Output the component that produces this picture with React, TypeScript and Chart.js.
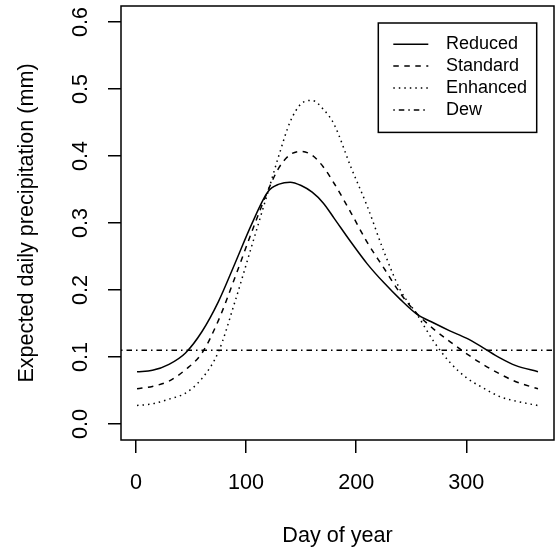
import React, { useEffect, useRef } from "react";
import { Chart, registerables } from "chart.js";

Chart.register(...registerables);

// ---- data ----
const DAYS = [1, 15, 30, 45, 60, 75, 90, 105, 120, 130, 140, 150, 160, 170, 180, 195, 210, 225, 240, 255, 270, 285, 300, 315, 330, 345, 365];
const REDUCED = [0.078, 0.08, 0.089, 0.106, 0.138, 0.183, 0.24, 0.298, 0.347, 0.358, 0.361, 0.356, 0.346, 0.33, 0.307, 0.272, 0.239, 0.211, 0.186, 0.164, 0.151, 0.139, 0.128, 0.114, 0.099, 0.087, 0.078];
const STANDARD = [0.0525, 0.056, 0.064, 0.081, 0.106, 0.155, 0.219, 0.286, 0.349, 0.383, 0.402, 0.407, 0.401, 0.384, 0.359, 0.316, 0.271, 0.233, 0.195, 0.165, 0.142, 0.123, 0.105, 0.089, 0.075, 0.063, 0.0525];
const ENHANCED = [0.0275, 0.03, 0.037, 0.046, 0.068, 0.108, 0.183, 0.265, 0.347, 0.402, 0.451, 0.478, 0.483, 0.47, 0.447, 0.384, 0.325, 0.258, 0.2, 0.164, 0.124, 0.092, 0.069, 0.054, 0.041, 0.034, 0.0275];
const DEW = 0.11;
const SERIES_LABELS = ["Reduced", "Standard", "Enhanced", "Dew"];

const X_TICKS = [0, 100, 200, 300];
const Y_TICKS = [0, 0.1, 0.2, 0.3, 0.4, 0.5, 0.6];
const X_MIN = -13.56;
const X_MAX = 379.56;
const Y_MIN = -0.024;
const Y_MAX = 0.624;

const FAMILY = "'Liberation Sans', Arial, Helvetica, sans-serif";
const AXIS_FONT = { family: FAMILY, size: 21.6 };

const toPoints = (vals: number[]) => DAYS.map((d, i) => ({ x: d, y: vals[i] }));

const frameAndLegend = {
  id: "frameAndLegend",
  afterDatasetsDraw(chart: any) {
    const { ctx, chartArea } = chart;
    ctx.save();
    // plot box
    ctx.strokeStyle = "#000";
    ctx.lineWidth = 1.5;
    ctx.setLineDash([]);
    ctx.strokeRect(chartArea.left, chartArea.top, chartArea.right - chartArea.left, chartArea.bottom - chartArea.top);

    // legend
    const w = 158.4;
    const h = 109.4;
    const x0 = chartArea.right - 17.3 - w;
    const y0 = chartArea.top + 17;
    ctx.fillStyle = "#fff";
    ctx.fillRect(x0, y0, w, h);
    ctx.strokeRect(x0, y0, w, h);
    ctx.font = `18px ${FAMILY}`;
    ctx.textBaseline = "middle";
    ctx.textAlign = "left";
    chart.data.datasets.forEach((ds: any, i: number) => {
      const y = y0 + 21.2 + i * 21.9;
      ctx.strokeStyle = "#000";
      ctx.lineWidth = ds.borderWidth;
      ctx.setLineDash(ds.borderDash || []);
      ctx.beginPath();
      ctx.moveTo(x0 + 15, y);
      ctx.lineTo(x0 + 50, y);
      ctx.stroke();
      ctx.setLineDash([]);
      ctx.fillStyle = "#000";
      ctx.fillText(ds.label, x0 + 67.7, y);
    });
    ctx.restore();
  },
};

export default function App() {
  const ref = useRef<HTMLCanvasElement>(null);

  useEffect(() => {
    if (!ref.current) return;
    const common = {
      showLine: true,
      pointRadius: 0,
      pointHoverRadius: 0,
      borderColor: "#000",
      backgroundColor: "#000",
      borderWidth: 1.5,
      fill: false,
      cubicInterpolationMode: "monotone" as const,
    };
    const chart = new Chart(ref.current, {
      type: "scatter",
      data: {
        datasets: [
          { ...common, label: SERIES_LABELS[0], data: toPoints(REDUCED), borderDash: [] },
          { ...common, label: SERIES_LABELS[1], data: toPoints(STANDARD), borderDash: [5.5, 5.5] },
          { ...common, label: SERIES_LABELS[2], data: toPoints(ENHANCED), borderDash: [1.5, 4] },
          {
            ...common,
            label: SERIES_LABELS[3],
            data: [
              { x: X_MIN, y: DEW },
              { x: X_MAX, y: DEW },
            ],
            borderDash: [1.5, 4, 5.5, 4],
          },
        ],
      },
      options: {
        animation: false,
        responsive: false,
        devicePixelRatio: 1,
        layout: { padding: { top: 6, right: 4, bottom: 0, left: 0 } },
        plugins: {
          legend: { display: false },
          tooltip: { enabled: false },
        },
        scales: {
          x: {
            type: "linear",
            min: X_MIN,
            max: X_MAX,
            bounds: "data",
            afterBuildTicks: (s: any) => {
              s.ticks = X_TICKS.map((v) => ({ value: v }));
            },
            afterFit: (s: any) => {
              s.height = 110;
              s.paddingLeft = 0;
              s.paddingRight = 0;
            },
            grid: { display: true, drawOnChartArea: false, drawTicks: true, tickLength: 13, color: "#000", lineWidth: 1.5 },
            border: { display: false },
            ticks: {
              color: "#000",
              font: AXIS_FONT,
              padding: 17,
              minRotation: 0,
              maxRotation: 0,
              autoSkip: false,
              callback: (v: any) => String(v),
            },
            title: {
              display: true,
              text: "Day of year",
              color: "#000",
              font: AXIS_FONT,
              padding: { top: 0, bottom: 0.5 },
            },
          },
          y: {
            type: "linear",
            min: Y_MIN,
            max: Y_MAX,
            bounds: "data",
            afterBuildTicks: (s: any) => {
              s.ticks = Y_TICKS.map((v) => ({ value: v }));
            },
            afterFit: (s: any) => {
              s.width = 121;
              s.paddingTop = 0;
              s.paddingBottom = 0;
            },
            grid: { display: true, drawOnChartArea: false, drawTicks: true, tickLength: 13, color: "#000", lineWidth: 1.5 },
            border: { display: false },
            ticks: {
              color: "#000",
              font: AXIS_FONT,
              padding: 11.5,
              minRotation: 90,
              maxRotation: 90,
              crossAlign: "center",
              autoSkip: false,
              callback: (v: any) => Number(v).toFixed(1),
            },
            title: {
              display: true,
              text: "Expected daily precipitation (mm)",
              color: "#000",
              font: AXIS_FONT,
              padding: { top: 13.6, bottom: 0 },
            },
          },
        },
      },
      plugins: [frameAndLegend],
    } as any);
    return () => chart.destroy();
  }, []);

  return (
    <div style={{ position: "absolute", left: 0, top: 0, width: 558, height: 550, background: "#fff" }}>
      <canvas ref={ref} width={558} height={550} style={{ display: "block", width: 558, height: 550 }} />
    </div>
  );
}
